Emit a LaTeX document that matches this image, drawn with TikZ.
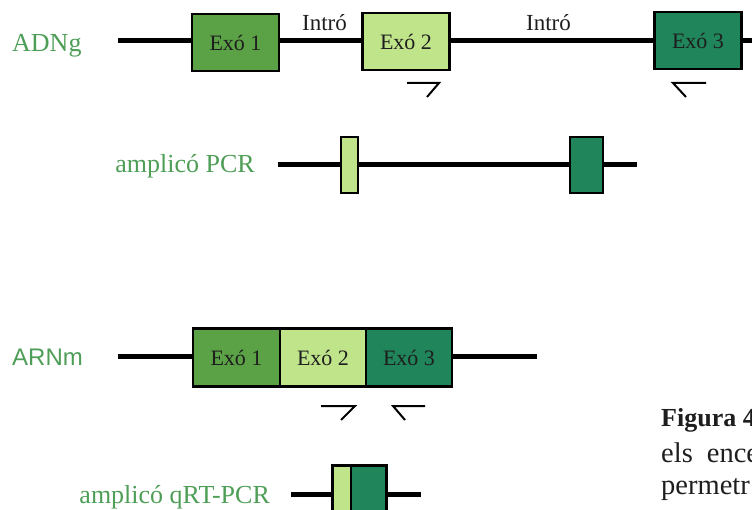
\documentclass[tikz,border=0pt]{standalone}
\usepackage{fontspec}
\setmainfont{Liberation Serif}
\newfontfamily\arnfont{Liberation Sans}
\definecolor{labgreen}{RGB}{78,158,87}
\definecolor{exa}{RGB}{91,161,69}
\definecolor{exb}{RGB}{192,228,138}
\definecolor{exc}{RGB}{32,133,90}
\definecolor{txt}{RGB}{30,30,30}
\begin{document}
\begin{tikzpicture}[x=1pt,y=-1pt,
  exon/.style={draw=black,line width=2.5pt,minimum width=#1,minimum height=57pt,inner sep=0pt,text=txt,font=\fontsize{22}{24}\selectfont},
  exon/.default=87pt,
  strand/.style={line width=5pt,black},
  primer/.style={line width=2pt,black},
  lab/.style={text=labgreen,inner sep=0pt},
  intro/.style={inner sep=0pt,anchor=base,text=txt,font=\fontsize{23}{25}\selectfont},
  captext/.style={inner sep=0pt,anchor=base west,text=txt,font=\fontsize{28.5}{30}\selectfont}]
\clip (0,0) rectangle (752,510);
% ---- ADNg
\node[lab,font=\fontsize{26}{28}\selectfont,anchor=base west] (adng) at (12,52) {ADNg};
\coordinate (g0) at (118,41);
\coordinate (g1) at (760,41);
\node[exon,fill=exa] (ge1) at (235.5,42.5) {Exó 1};
\node[exon,fill=exb] (ge2) at (406,41.5) {Exó 2};
\node[exon,fill=exc] (ge3) at (698,40.5) {Exó 3};
\draw[strand] (g0) -- (g0 -| ge1.west);
\draw[strand] (g0 -| ge1.east) -- (g0 -| ge2.west);
\draw[strand] (g0 -| ge2.east) -- (g0 -| ge3.west);
\draw[strand] (g0 -| ge3.east) -- (g1);
\node[intro] (i1) at (324.5,31) {Intró};
\node[intro] (i2) at (548.5,31) {Intró};
% primers
\draw[primer] (407,83) -- (439,83) -- (427,97);
\draw[primer] (706,83) -- (673,83) -- (686,97);
% ---- amplicó PCR
\node[lab,font=\fontsize{26}{28}\selectfont,anchor=base east] (apcr) at (255,173) {amplicó PCR};
\coordinate (p0) at (278,165);
\coordinate (p1) at (637,165);
\node[exon=17pt,fill=exb,minimum height=56pt,line width=2pt] (pe2) at (349.5,165.5) {};
\node[exon=33pt,fill=exc,minimum height=56pt,line width=2pt] (pe3) at (586.5,165.5) {};
\draw[strand] (p0) -- (p0 -| pe2.west);
\draw[strand] (p0 -| pe2.east) -- (p0 -| pe3.west);
\draw[strand] (p0 -| pe3.east) -- (p1);
% ---- ARNm
\node[lab,font=\arnfont\fontsize{24}{26}\selectfont,anchor=base west] (arnm) at (12,366) {ARNm};
\coordinate (m0) at (118,357);
\coordinate (m1) at (537,357);
\node[exon,fill=exa,minimum height=58pt] (me1) at (236.5,357.5) {Exó 1};
\node[exon=86pt,fill=exb,minimum height=58pt] (me2) at (323,357.5) {Exó 2};
\node[exon=86pt,fill=exc,minimum height=58pt] (me3) at (409,357.5) {Exó 3};
\draw[strand] (m0) -- (m0 -| me1.west);
\draw[strand] (m0 -| me3.east) -- (m1);
\draw[primer] (321,406) -- (355,406) -- (341,420);
\draw[primer] (425,406) -- (393,406) -- (405,420);
% ---- amplicó qRT-PCR
\node[lab,font=\fontsize{26}{28}\selectfont,anchor=base east] (aqrt) at (270,503) {amplicó qRT-PCR};
\coordinate (q0) at (291,494);
\coordinate (q1) at (421,494);
\node[exon=18pt,fill=exb,minimum height=60pt,line width=2pt,anchor=north west] (qe2) at (332,465) {};
\node[exon=35pt,fill=exc,minimum height=60pt,line width=2pt,anchor=north west] (qe3) at (350,465) {};
\draw[strand] (q0) -- (q0 -| qe2.west);
\draw[strand] (q1 -| qe3.east) -- (q1);
\draw[line width=2.5pt] (qe2.south west) rectangle (qe3.north east);
% ---- caption (cut at the right edge, as in the reference)
\node[captext,font=\fontsize{26}{28}\selectfont\bfseries] (cap1) at (661,426) {Figura 4};
\node[captext] (cap2) at (661,462) {els\hspace{14pt}ence};
\node[captext] (cap3) at (661,494) {permetr};
\end{tikzpicture}
\end{document}
